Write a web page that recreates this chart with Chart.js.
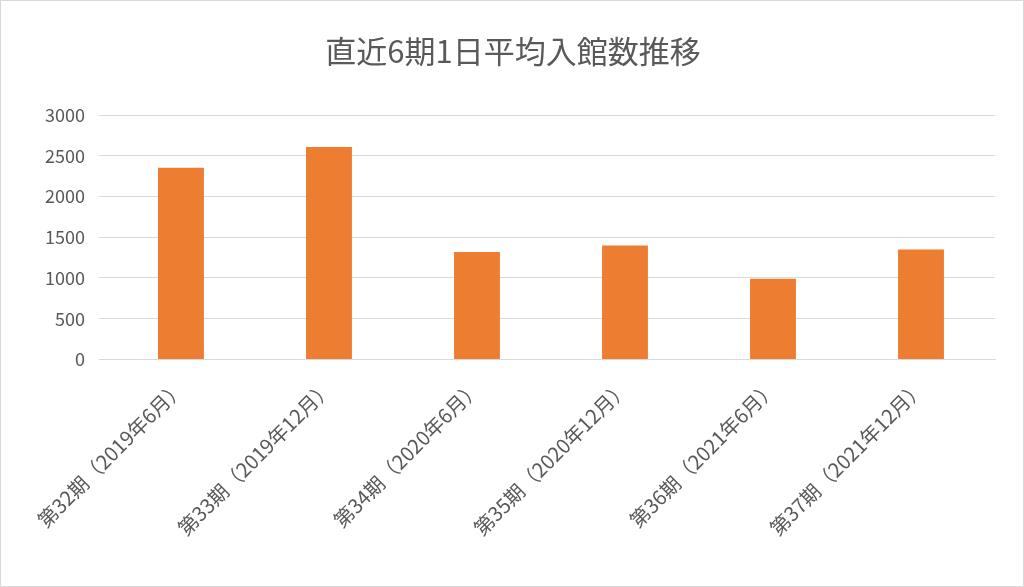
<!DOCTYPE html>
<html>
<head>
<meta charset="utf-8">
<script src="https://cdn.jsdelivr.net/npm/chart.js@4/dist/chart.umd.min.js"></script>
<style>
  html, body { margin: 0; padding: 0; background: #fff; }
  #wrap { position: absolute; left: 0; top: 0; width: 1022px; height: 585px; border: 1px solid #d9d9d9; }
</style>
</head>
<body>
<div id="wrap"><canvas id="chart" width="1022" height="585"></canvas></div>
<script>
// Data
const categories = [
  "第32期（2019年6月）",
  "第33期（2019年12月）",
  "第34期（2020年6月）",
  "第35期（2020年12月）",
  "第36期（2021年6月）",
  "第37期（2021年12月）"
];
const visitors = [2355, 2610, 1320, 1400, 990, 1350];
const yTicks = [0, 500, 1000, 1500, 2000, 2500, 3000];

const font = "'Noto Sans CJK JP', 'Noto Sans', sans-serif";

new Chart(document.getElementById("chart"), {
  type: "bar",
  data: {
    labels: categories,
    datasets: [
      {
        label: "1日平均入館数",
        data: visitors,
        backgroundColor: "#ed7d31",
        categoryPercentage: 1.0,
        barPercentage: 0.31,
      },
    ],
  },
  options: {
    responsive: false,
    animation: false,
    layout: { padding: { left: 30, right: 28, top: 10, bottom: 38 } },
    plugins: {
      legend: { display: false },
      tooltip: { enabled: false },
      title: {
        display: true,
        text: "直近6期1日平均入館数推移",
        color: "#595959",
        font: { family: font, size: 31, weight: "normal" },
        padding: { top: 22, bottom: 45 },
      },
    },
    scales: {
      x: {
        grid: { display: false },
        border: { color: "#d9d9d9" },
        ticks: {
          color: "#595959",
          font: { family: font, size: 20 },
          maxRotation: 45,
          minRotation: 45,
          padding: 8,
        },
      },
      y: {
        min: 0,
        max: 3000,
        afterBuildTicks: (axis) => { axis.ticks = yTicks.map((v) => ({ value: v })); },
        grid: { color: "#d9d9d9" },
        border: { display: false },
        ticks: {
          color: "#595959",
          font: { family: font, size: 18 },
          padding: 14,
          callback: (v) => String(v),
        },
      },
    },
  },
});
</script>
</body>
</html>
